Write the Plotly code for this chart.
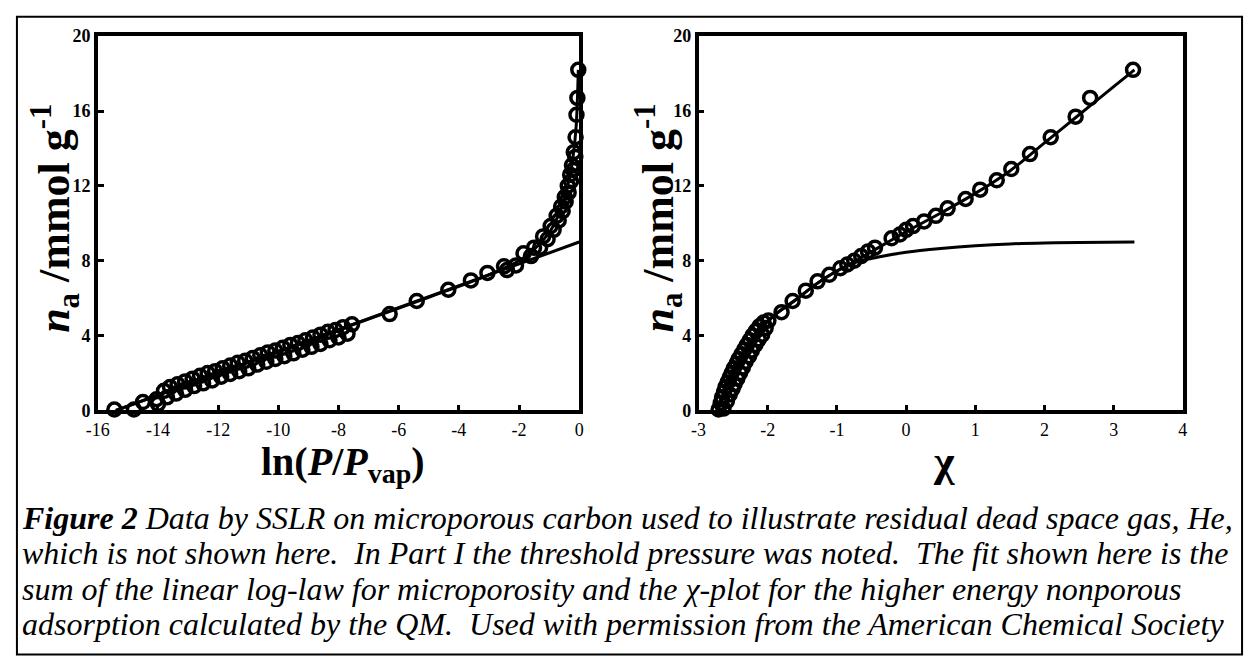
import plotly.graph_objects as go

# ---------------- data ----------------
# Left panel: n_a vs ln(P/Pvap)
left_x_a = [-15.45, -14.8, -14.5, -14.05, -13.8, -13.6, -13.35, -13.1, -12.85, -12.6, -12.35, -12.1,
            -11.85, -11.6, -11.35, -11.1, -10.85, -10.6, -10.35, -10.1, -9.85, -9.6, -9.35, -9.1,
            -8.85, -8.6, -8.35, -8.1, -7.85, -7.55, -6.3, -5.4, -4.35, -3.6, -3.05, -2.5, -1.85,
            -1.5, -1.2, -0.95, -0.75, -0.6, -0.48, -0.38, -0.3, -0.24, -0.18, -0.12, -0.09, -0.06, -0.03]
left_n_a = [0.05, 0.05, 0.45, 0.6, 1.05, 1.25, 1.4, 1.55, 1.7, 1.85, 2.0, 2.1,
            2.25, 2.4, 2.55, 2.65, 2.8, 2.95, 3.1, 3.2, 3.35, 3.5, 3.6, 3.75,
            3.9, 4.05, 4.2, 4.3, 4.45, 4.6, 5.15, 5.85, 6.45, 6.95, 7.35, 7.7, 8.4,
            8.7, 9.3, 9.85, 10.4, 10.9, 11.4, 12.0, 12.6, 13.1, 13.8, 14.6, 15.8, 16.7, 18.2]
left_x_b = [-14.0, -13.7, -13.4, -13.1, -12.8, -12.5, -12.2, -11.9, -11.6, -11.3, -11.0, -10.7,
            -10.4, -10.1, -9.8, -9.5, -9.2, -8.9, -8.6, -8.3, -8.0, -7.7, -2.4, -2.1, -1.6,
            -1.3, -1.05, -0.85, -0.68, -0.55, -0.45, -0.35, -0.27, -0.2, -0.13]
left_n_b = [0.35, 0.7, 0.9, 1.1, 1.3, 1.45, 1.6, 1.8, 1.95, 2.1, 2.25, 2.45,
            2.6, 2.75, 2.9, 3.05, 3.25, 3.4, 3.55, 3.75, 3.9, 4.1, 7.5, 7.75, 8.25,
            8.7, 9.15, 9.65, 10.15, 10.65, 11.15, 11.65, 12.25, 12.85, 13.55]
left_micro_x = [-15.4, 0.0]
left_micro_n = [0.0, 9.0]
left_fit_x = [-15.4, -10.0, -5.0, -3.0, -2.0, -1.5, -1.0, -0.7, -0.5, -0.3, -0.2, -0.1, -0.03]
left_fit_n = [0.0, 3.15, 6.05, 7.25, 8.0, 8.6, 9.5, 10.4, 11.3, 12.6, 13.6, 15.2, 18.2]

# Right panel: n_a vs chi
right_x_a = [-2.71, -2.68, -2.66, -2.63, -2.61, -2.58, -2.55, -2.52, -2.49, -2.45, -2.42, -2.38,
             -2.34, -2.30, -2.26, -2.22, -2.17, -2.12, -2.06,
             -1.80, -1.64, -1.45, -1.28, -1.11, -0.95, -0.85, -0.75, -0.65, -0.55, -0.45,
             -0.21, -0.09, 0.0, 0.10, 0.26, 0.43, 0.60, 0.86, 1.07, 1.31, 1.52, 1.79, 2.09,
             2.45, 2.66, 3.28]
right_n_a = [0.05, 0.4, 0.7, 1.0, 1.25, 1.5, 1.75, 2.0, 2.25, 2.5, 2.75, 3.0,
             3.25, 3.5, 3.75, 4.0, 4.25, 4.5, 4.7,
             5.25, 5.85, 6.4, 6.9, 7.25, 7.6, 7.8, 8.0, 8.25, 8.5, 8.7,
             9.2, 9.4, 9.65, 9.85, 10.1, 10.4, 10.8, 11.3, 11.8, 12.3, 12.9, 13.7, 14.6,
             15.7, 16.7, 18.2]
right_x_b = [-2.64, -2.59, -2.55, -2.51, -2.48, -2.44, -2.40, -2.36, -2.32, -2.27, -2.23, -2.18,
             -2.13, -2.08, -2.03, -1.99]
right_n_b = [0.1, 0.5, 0.85, 1.15, 1.4, 1.7, 2.0, 2.3, 2.6, 2.9, 3.2, 3.5,
             3.8, 4.05, 4.4, 4.8]
right_fit_x = [-2.72, -2.6, -2.45, -2.3, -2.1, -1.9, -1.6, -1.3, -1.0, -0.7, -0.4, 0.0, 0.5,
               1.0, 1.5, 2.0, 2.5, 3.0, 3.3]
right_fit_n = [0.0, 1.2, 2.4, 3.4, 4.4, 5.1, 5.9, 6.75, 7.45, 8.05, 8.7, 9.55, 10.55,
               11.6, 12.8, 14.3, 15.8, 17.3, 18.2]
right_micro_x = [-2.72, -2.6, -2.45, -2.3, -2.1, -1.9, -1.6, -1.3, -1.0, -0.7, -0.4, 0.0, 0.5,
                 1.0, 1.5, 2.0, 2.5, 3.3]
right_micro_n = [0.0, 1.2, 2.4, 3.4, 4.4, 5.1, 5.9, 6.75, 7.45, 7.95, 8.2, 8.45, 8.65,
                 8.8, 8.9, 8.95, 8.97, 9.0]

left_xticks = [-16, -14, -12, -10, -8, -6, -4, -2, 0]
right_xticks = [-3, -2, -1, 0, 1, 2, 3, 4]
y_ticks = [0, 4, 8, 12, 16, 20]

caption_lines = [
    "<b>Figure 2</b> Data by SSLR on microporous carbon used to illustrate residual dead space gas, He,",
    "which is not shown here.  In Part I the threshold pressure was noted.  The fit shown here is the",
    "sum of the linear log-law for microporosity and the χ-plot for the higher energy nonporous",
    "adsorption calculated by the QM.  Used with permission from the American Chemical Society",
]

# ---------------- figure ----------------
W, H = 1251, 658
SERIF = "Liberation Serif"
fig = go.Figure()

marker = dict(symbol="circle-open", size=13, color="black", line=dict(width=3.5, color="black"))
line_style = dict(color="black", width=3)

def add_panel(xa, ya, xb, yb, fx, fy, mx, my, xref, yref, spline):
    fig.add_trace(go.Scatter(x=mx, y=my, mode="lines", line=dict(line_style, shape="spline" if spline else "linear"),
                             xaxis=xref, yaxis=yref, cliponaxis=False, showlegend=False, hoverinfo="skip"))
    fig.add_trace(go.Scatter(x=fx, y=fy, mode="lines", line=dict(line_style, shape="spline"),
                             xaxis=xref, yaxis=yref, cliponaxis=False, showlegend=False, hoverinfo="skip"))
    fig.add_trace(go.Scatter(x=xb, y=yb, mode="markers", marker=marker,
                             xaxis=xref, yaxis=yref, cliponaxis=False, showlegend=False))
    fig.add_trace(go.Scatter(x=xa, y=ya, mode="markers", marker=marker,
                             xaxis=xref, yaxis=yref, cliponaxis=False, showlegend=False))

add_panel(left_x_a, left_n_a, left_x_b, left_n_b, left_fit_x, left_fit_n,
          left_micro_x, left_micro_n, "x", "y", False)
add_panel(right_x_a, right_n_a, right_x_b, right_n_b, right_fit_x, right_fit_n,
          right_micro_x, right_micro_n, "x2", "y2", True)

ydom = [1 - 413 / H, 1 - 27 / H]
axis_common = dict(showline=True, linecolor="black", linewidth=3.5, mirror=True,
                   ticks="inside", ticklen=6, tickwidth=3, tickcolor="black",
                   showgrid=False, zeroline=False, fixedrange=True)
xfont = dict(family=SERIF, size=18, color="black")
yfont = dict(family=SERIF, size=18, color="black", weight="bold")

fig.update_layout(
    width=W, height=H, margin=dict(l=0, r=0, t=0, b=0),
    paper_bgcolor="white", plot_bgcolor="white",
    xaxis=dict(axis_common, domain=[87 / W, 575 / W], range=[-16, 0], tickvals=left_xticks,
               ticktext=[str(v) for v in left_xticks], tickfont=xfont, anchor="y"),
    yaxis=dict(axis_common, domain=ydom, range=[0, 20], tickvals=y_ticks, tickfont=yfont, anchor="x"),
    xaxis2=dict(axis_common, domain=[696 / W, 1187 / W], range=[-3, 4], tickvals=right_xticks,
                ticktext=[str(v) for v in right_xticks], tickfont=xfont, anchor="y2"),
    yaxis2=dict(axis_common, domain=ydom, range=[0, 20], tickvals=y_ticks, tickfont=yfont, anchor="x2"),
)

ann = []
ytitle = "<i>n</i><sub>a</sub> /mmol g<sup>-1</sup>"
for xc in (44, 656):
    ann.append(dict(text=ytitle, x=xc / W, y=1 - 215 / H, xref="paper", yref="paper",
                    textangle=-90, showarrow=False, xanchor="center", yanchor="middle",
                    font=dict(family=SERIF, size=44, color="black", weight="bold")))
ann.append(dict(text="ln(<i>P</i>/<i>P</i><sub>vap</sub>)", x=336 / W, y=1 - 440 / H,
                xref="paper", yref="paper", showarrow=False, xanchor="center", yanchor="top",
                font=dict(family=SERIF, size=40, color="black", weight="bold")))
ann.append(dict(text="χ", x=945 / W, y=1 - 438 / H, xref="paper", yref="paper", showarrow=False,
                xanchor="center", yanchor="top",
                font=dict(family=SERIF, size=44, color="black", weight="bold")))
for i, line in enumerate(caption_lines):
    ann.append(dict(text="<i>" + line + "</i>", x=8 / W, y=1 - (524 + 36.5 * i) / H,
                    xref="paper", yref="paper", showarrow=False, xanchor="left", yanchor="middle",
                    align="left", font=dict(family=SERIF, size=32, color="black")))
fig.update_layout(annotations=ann)

fig.add_shape(type="rect", xref="paper", yref="paper", x0=5 / W, x1=1247 / W, y0=-0.01, y1=1 - 7 / H,
              line=dict(color="black", width=2), fillcolor="rgba(0,0,0,0)", layer="above")

fig.write_html("out.html", config={"displayModeBar": False},
               post_script="document.body.style.margin='0';document.body.style.padding='0';")
